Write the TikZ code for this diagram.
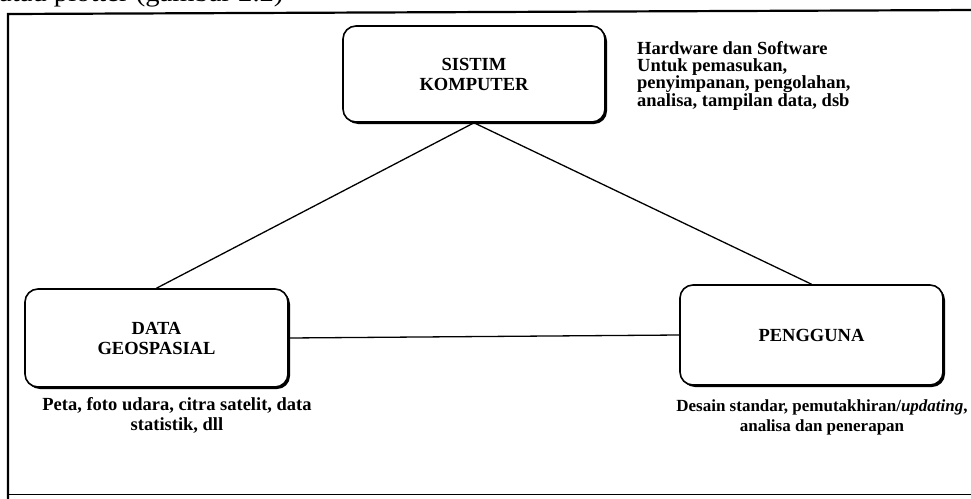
\documentclass[tikz,border=0pt]{standalone}
\usepackage{fontspec}
\setmainfont{Liberation Serif}
\newfontfamily\capfont[FakeStretch=1.1]{Liberation Serif}
\usetikzlibrary{shadows}
\begin{document}
\begin{tikzpicture}[x=1pt,y=-1pt,
  box/.style={draw, line width=1.6pt, rounded corners=13pt, fill=white,
    minimum width=262pt, minimum height=96pt, align=center, inner sep=0pt,
    font=\fontsize{18.5}{20}\selectfont\bfseries,
    drop shadow={shadow xshift=2pt, shadow yshift=-2pt, fill=black, opacity=1}},
  note/.style={inner sep=0pt, font=\fontsize{18.5}{20}\selectfont\bfseries},
  link/.style={line width=1.3pt}]
\useasboundingbox (0,0) rectangle (971,498);

% running text above the frame and the frame itself
\begin{scope}
  \clip (0,0) rectangle (971,498);
  \node[anchor=base west, inner sep=0pt, font=\capfont\fontsize{26}{28}\selectfont]
    (caption) at (-1,1.5) {atau plotter (gambar 2.2)};
  \draw[line width=2.2pt] (8,500) -- (8,14) -- (975,10);
  \draw[line width=1.8pt] (8,494.5) -- (975,494.5);
\end{scope}

% the three components
\node[box] (komp) at (474,74) {SISTIM\\KOMPUTER};
\node[box, minimum width=263pt, minimum height=98pt] (data) at (156.5,338) {DATA\\GEOSPASIAL};
\node[box, minimum width=263pt, minimum height=100pt] (user) at (811.5,335) {PENGGUNA};

% connections
\draw[link] (komp.south) -- (data.north);
\draw[link] (komp.south) -- (user.north);
\draw[link] (data.east) -- (user.west);

% descriptions
\node[note, anchor=north west, align=left, font=\fontsize{18.5}{17.3}\selectfont\bfseries]
  (hwnote) at (637,41) {Hardware dan Software\\Untuk pemasukan,\\penyimpanan, pengolahan,\\analisa, tampilan data, dsb};
\node[note, align=center] (datanote) at (177,415)
  {Peta, foto udara, citra satelit, data\\statistik, dll};
\node[note, align=center, font=\fontsize{17}{20}\selectfont\bfseries] (usernote) at (822,417)
  {Desain standar, pemutakhiran/\textit{updating},\\analisa dan penerapan};
\end{tikzpicture}
\end{document}
